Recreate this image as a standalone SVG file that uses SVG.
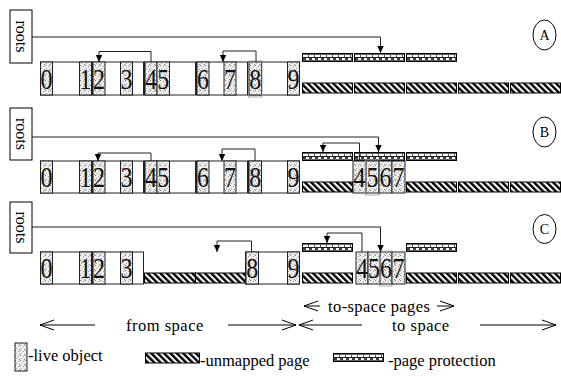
<svg xmlns="http://www.w3.org/2000/svg" xmlns:xlink="http://www.w3.org/1999/xlink" width="561" height="377" viewBox="0 0 561 377">
<style>
.page{fill:#fff;stroke:#222;stroke-width:1}
.obj{fill:url(#stip);stroke:#222;stroke-width:1}
.odd{fill:none;stroke:#999;stroke-width:0.8}
.unm{fill:url(#hatch);stroke:#000;stroke-width:1}
.d{font-family:"Liberation Serif",serif;font-size:30px;text-anchor:middle;fill:#111}
.roots{fill:#fff;stroke:#000;stroke-width:1}
.rt{font-family:"Liberation Serif",serif;font-size:16px;text-anchor:middle;fill:#000}
.lbl{font-family:"Liberation Serif",serif;font-size:16.5px;fill:#000}
.cl{font-family:"Liberation Serif",serif;font-size:14px;text-anchor:middle;fill:#000}
.con{fill:none;stroke:#222;stroke-width:1;marker-end:url(#ah)}
.dim{fill:none;stroke:#000;stroke-width:1;marker-end:url(#oa)}
</style>
<defs>
<pattern id="stip" width="5" height="5" patternUnits="userSpaceOnUse">
<rect width="5" height="5" fill="#eeeeee"/>
<rect x="0" y="0" width="1" height="1" fill="#777"/>
<rect x="3" y="1" width="1" height="1" fill="#999"/>
<rect x="1" y="3" width="1" height="1" fill="#aaa"/>
<rect x="4" y="4" width="1" height="1" fill="#888"/>
</pattern>
<pattern id="hatch" width="4.5" height="4.5" patternUnits="userSpaceOnUse" patternTransform="rotate(-45)">
<rect width="4.5" height="4.5" fill="#fff"/>
<rect width="2.4" height="4.5" fill="#000"/>
</pattern>
<g id="prot">
<rect x="0.5" y="0.5" width="50" height="8" fill="#fff" stroke="#000" stroke-width="1"/>
<rect x="0" y="0" width="51" height="1.6" fill="#000"/>
<rect x="0" y="7.4" width="51" height="1.6" fill="#000"/>
<line x1="0" y1="4.5" x2="51" y2="4.5" stroke="#000" stroke-width="0.9"/>
<line x1="0" y1="3" x2="51" y2="3" stroke="#000" stroke-width="1.6" stroke-dasharray="0.9 5.1"/>
<line x1="0" y1="6" x2="51" y2="6" stroke="#000" stroke-width="1.6" stroke-dasharray="3 3" stroke-dashoffset="-1"/>
</g>
<marker id="ah" markerWidth="8" markerHeight="8" refX="7" refY="4" orient="auto" markerUnits="userSpaceOnUse">
<path d="M0,0.8 L7,4 L0,7.2 Z" fill="#000"/>
</marker>
<marker id="oa" markerWidth="16" markerHeight="12" refX="15" refY="6" orient="auto" markerUnits="userSpaceOnUse">
<path d="M1,1 L15,6 L1,11" fill="none" stroke="#000" stroke-width="1"/>
</marker>
</defs>
<rect width="561" height="377" fill="#fff"/>

<!-- Panel A -->
<g id="panelA">
<g id="rootsA"><rect class="roots" x="10" y="10" width="22" height="53"/><text class="rt" transform="translate(16,36.5) rotate(90)">roots</text></g>
<g id="fromA">
<rect class="page" x="40.5" y="62" width="51" height="33"/>
<rect class="page" x="92.5" y="62" width="51" height="33"/>
<rect class="page" x="144.5" y="62" width="51" height="33"/>
<rect class="page" x="196.5" y="62" width="51" height="33"/>
<rect class="page" x="248.5" y="62" width="51" height="33"/>
<rect class="obj" x="40.5" y="62" width="12" height="33"/>
<rect class="obj" x="79.5" y="62" width="12" height="33"/>
<rect class="obj" x="93" y="62" width="12" height="33"/>
<rect class="obj" x="120.5" y="62" width="12" height="33"/>
<rect class="obj" x="145" y="62" width="12" height="33"/>
<rect class="obj" x="157" y="62" width="12.5" height="33"/>
<rect class="obj" x="197" y="62" width="12" height="33"/>
<rect class="obj" x="224" y="62" width="12" height="33"/>
<rect class="obj" x="249" y="62" width="12.5" height="33"/>
<rect class="odd" x="248.5" y="61" width="13.5" height="36"/>
<rect class="obj" x="287.5" y="62" width="12" height="33"/>
<text class="d" transform="translate(46.5,89) scale(0.8,1)">0</text>
<text class="d" transform="translate(85.5,89) scale(0.8,1)">1</text>
<text class="d" transform="translate(99,89) scale(0.8,1)">2</text>
<text class="d" transform="translate(126.5,89) scale(0.8,1)">3</text>
<text class="d" transform="translate(151,89) scale(0.8,1)">4</text>
<text class="d" transform="translate(163.25,89) scale(0.8,1)">5</text>
<text class="d" transform="translate(203,89) scale(0.8,1)">6</text>
<text class="d" transform="translate(230,89) scale(0.8,1)">7</text>
<text class="d" transform="translate(255.25,89) scale(0.8,1)">8</text>
<text class="d" transform="translate(293.5,89) scale(0.8,1)">9</text>
</g>
<g id="toA">
<use xlink:href="#prot" x="302" y="53"/>
<use xlink:href="#prot" x="354" y="53"/>
<use xlink:href="#prot" x="406" y="53"/>
<rect class="unm" x="302.5" y="83" width="50" height="10"/>
<rect class="unm" x="354.5" y="83" width="50" height="10"/>
<rect class="unm" x="406.5" y="83" width="50" height="10"/>
<rect class="unm" x="458.5" y="83" width="50" height="10"/>
<rect class="unm" x="510.5" y="83" width="50" height="10"/>
</g>
<g id="labelA"><ellipse cx="544.5" cy="35" rx="11.5" ry="15" fill="#fff" stroke="#000"/><text class="cl" x="544.5" y="40">A</text></g>
</g>

<!-- Panel B -->
<g id="panelB">
<g id="rootsB"><rect class="roots" x="10" y="108" width="22" height="52"/><text class="rt" transform="translate(16,134) rotate(90)">roots</text></g>
<g id="fromB">
<rect class="page" x="40.5" y="161" width="51" height="32"/>
<rect class="page" x="92.5" y="161" width="51" height="32"/>
<rect class="page" x="144.5" y="161" width="51" height="32"/>
<rect class="page" x="196.5" y="161" width="51" height="32"/>
<rect class="page" x="248.5" y="161" width="51" height="32"/>
<rect class="obj" x="40.5" y="161" width="12" height="32"/>
<rect class="obj" x="79.5" y="161" width="12" height="32"/>
<rect class="obj" x="93" y="161" width="12" height="32"/>
<rect class="obj" x="120.5" y="161" width="12" height="32"/>
<rect class="obj" x="145" y="161" width="12" height="32"/>
<rect class="obj" x="157" y="161" width="12.5" height="32"/>
<rect class="obj" x="197" y="161" width="12" height="32"/>
<rect class="obj" x="224" y="161" width="12" height="32"/>
<rect class="obj" x="249" y="161" width="12.5" height="32"/>
<rect class="obj" x="287.5" y="161" width="12" height="32"/>
<text class="d" transform="translate(46.5,187) scale(0.8,1)">0</text>
<text class="d" transform="translate(85.5,187) scale(0.8,1)">1</text>
<text class="d" transform="translate(99,187) scale(0.8,1)">2</text>
<text class="d" transform="translate(126.5,187) scale(0.8,1)">3</text>
<text class="d" transform="translate(151,187) scale(0.8,1)">4</text>
<text class="d" transform="translate(163.25,187) scale(0.8,1)">5</text>
<text class="d" transform="translate(203,187) scale(0.8,1)">6</text>
<text class="d" transform="translate(230,187) scale(0.8,1)">7</text>
<text class="d" transform="translate(255.25,187) scale(0.8,1)">8</text>
<text class="d" transform="translate(293.5,187) scale(0.8,1)">9</text>
</g>
<g id="toB">
<use xlink:href="#prot" x="302" y="152"/>
<use xlink:href="#prot" x="354" y="152"/>
<use xlink:href="#prot" x="406" y="152"/>
<rect class="unm" x="302.5" y="182" width="50" height="10"/>
<rect class="unm" x="406.5" y="182" width="50" height="10"/>
<rect class="unm" x="458.5" y="182" width="50" height="10"/>
<rect class="unm" x="510.5" y="182" width="50" height="10"/>
<rect class="obj" x="353" y="161" width="13" height="32"/>
<rect class="obj" x="366" y="161" width="13" height="32"/>
<rect class="odd" x="365.5" y="160" width="13.5" height="35"/>
<rect class="obj" x="379" y="161" width="13" height="32"/>
<rect class="obj" x="392" y="161" width="13" height="32"/>
<text class="d" transform="translate(359.5,187) scale(0.8,1)">4</text>
<text class="d" transform="translate(372.5,187) scale(0.8,1)">5</text>
<text class="d" transform="translate(385.5,187) scale(0.8,1)">6</text>
<text class="d" transform="translate(398.5,187) scale(0.8,1)">7</text>
</g>
<g id="labelB"><ellipse cx="544.5" cy="132" rx="11.5" ry="15" fill="#fff" stroke="#000"/><text class="cl" x="544.5" y="137">B</text></g>
</g>

<!-- Panel C -->
<g id="panelC">
<g id="rootsC"><rect class="roots" x="10" y="202" width="22" height="51"/><text class="rt" transform="translate(16,227.5) rotate(90)">roots</text></g>
<g id="fromC">
<rect class="page" x="40.5" y="252" width="51" height="32"/>
<rect class="page" x="92.5" y="252" width="51" height="32"/>
<rect class="unm" x="144.5" y="273" width="51" height="10"/>
<rect class="unm" x="195.5" y="273" width="50" height="10"/>
<rect class="page" x="245.5" y="252" width="54" height="32"/>
<rect class="obj" x="40.5" y="252" width="12" height="32"/>
<rect class="obj" x="79.5" y="252" width="12" height="32"/>
<rect class="obj" x="93" y="252" width="12" height="32"/>
<rect class="obj" x="120.5" y="252" width="12" height="32"/>
<rect class="obj" x="246" y="252" width="12.5" height="32"/>
<rect class="obj" x="287.5" y="252" width="12" height="32"/>
<text class="d" transform="translate(46.5,278) scale(0.8,1)">0</text>
<text class="d" transform="translate(85.5,278) scale(0.8,1)">1</text>
<text class="d" transform="translate(99,278) scale(0.8,1)">2</text>
<text class="d" transform="translate(126.5,278) scale(0.8,1)">3</text>
<text class="d" transform="translate(252.25,278) scale(0.8,1)">8</text>
<text class="d" transform="translate(293.5,278) scale(0.8,1)">9</text>
</g>
<g id="toC">
<use xlink:href="#prot" x="302" y="243"/>
<use xlink:href="#prot" x="406" y="243"/>
<rect class="unm" x="302.5" y="273" width="50" height="10"/>
<rect class="unm" x="406.5" y="273" width="50" height="10"/>
<rect class="unm" x="458.5" y="273" width="50" height="10"/>
<rect class="unm" x="510.5" y="273" width="50" height="10"/>
<rect class="obj" x="356" y="252" width="12" height="32"/>
<rect class="obj" x="368" y="252" width="12" height="32"/>
<rect class="obj" x="380" y="252" width="12" height="32"/>
<rect class="odd" x="379.5" y="251" width="12.5" height="35"/>
<rect class="obj" x="392" y="252" width="13" height="32"/>
<text class="d" transform="translate(362,278) scale(0.8,1)">4</text>
<text class="d" transform="translate(374,278) scale(0.8,1)">5</text>
<text class="d" transform="translate(386,278) scale(0.8,1)">6</text>
<text class="d" transform="translate(398.5,278) scale(0.8,1)">7</text>
</g>
<g id="labelC"><ellipse cx="544.5" cy="229" rx="11.5" ry="14.5" fill="#fff" stroke="#000"/><text class="cl" x="544.5" y="234">C</text></g>
</g>

<!-- Connectors -->
<g id="connectors">
<path class="con" d="M32,37 H380.5 V53"/>
<path class="con" d="M151,62 V51.5 H99 V62"/>
<path class="con" d="M256,62 V51 H223 V62"/>
<path class="con" d="M32,137 H378.5 V152"/>
<path class="con" d="M151,161 V153 H98 V161"/>
<path class="con" d="M255,161 V149 H222 V161"/>
<path class="con" d="M359.5,161 V143 H323 V152"/>
<path class="con" d="M32,227 H380.5 V252"/>
<path class="con" d="M251.5,252 V241 H217 V252"/>
<path class="con" d="M362,252 V233 H327 V243"/>
</g>

<!-- Dimension labels -->
<g id="dimensions">
<path class="dim" d="M320,306 H304"/>
<text class="lbl" x="328" y="312" letter-spacing="0.4">to-space pages</text>
<path class="dim" d="M437,306 H454"/>
<path class="dim" d="M95,325 H40"/>
<text class="lbl" x="126" y="331" letter-spacing="0.5">from space</text>
<path class="dim" d="M228,325 H296"/>
<path class="dim" d="M362,325 H299"/>
<text class="lbl" x="392" y="331" letter-spacing="0.5">to space</text>
<path class="dim" d="M480,325 H556"/>
</g>

<!-- Legend -->
<g id="legend">
<rect class="obj" x="15" y="343" width="12" height="28"/>
<text class="lbl" x="28" y="361">-live object</text>
<rect class="unm" x="145.5" y="353" width="54" height="10"/>
<text class="lbl" x="200" y="366">-unmapped page</text>
<use xlink:href="#prot" x="333" y="353"/>
<text class="lbl" x="388" y="366">-page protection</text>
</g>
</svg>
